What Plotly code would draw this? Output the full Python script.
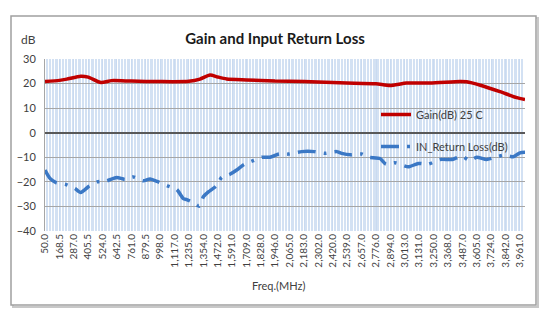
import plotly.graph_objects as go

# Category labels on the frequency axis (MHz)
tick_labels = ["50.0", "168.5", "287.0", "405.5", "524.0", "642.5", "761.0", "879.5",
               "998.0", "1,117.0", "1,235.0", "1,354.0", "1,472.0", "1,591.0", "1,709.0",
               "1,828.0", "1,946.0", "2,065.0", "2,183.0", "2,302.0", "2,420.0", "2,539.0",
               "2,657.0", "2,776.0", "2,894.0", "3,013.0", "3,131.0", "3,250.0", "3,368.0",
               "3,487.0", "3,605.0", "3,724.0", "3,842.0", "3,961.0"]
tick_freqs = [float(t.replace(",", "")) for t in tick_labels]

# Gain (dB) at 25 C
gain_freq = [50, 169, 229, 344, 406, 511, 599, 761, 997, 1235, 1326, 1409, 1472, 1546,
             1709, 1944, 2183, 2420, 2534, 2776, 2891, 3029, 3221, 3468, 3523, 3636,
             3797, 3934, 4003]
gain_db = [20.8, 21.3, 21.8, 23.0, 22.6, 20.4, 21.2, 21.0, 20.8, 20.9, 21.8, 23.5, 22.7,
           21.9, 21.5, 21.0, 20.8, 20.4, 20.2, 19.9, 19.2, 20.2, 20.2, 20.8, 20.7, 19.3,
           16.7, 14.3, 13.5]

# Input return loss (dB)
rl_freq = [50, 91, 141, 223, 297, 344, 407, 481, 558, 640, 709, 777, 859, 915, 983, 1057,
           1135, 1189, 1217, 1277, 1321, 1354, 1395, 1458, 1505, 1573, 1629, 1689, 1765,
           1835, 1903, 1977, 2054, 2164, 2268, 2356, 2452, 2493, 2567, 2658, 2712, 2809,
           2858, 2932, 3042, 3124, 3206, 3303, 3404, 3481, 3550, 3605, 3687, 3770, 3838,
           3906, 3962, 4003]
rl_db = [-15.2, -18.6, -20.3, -21.1, -22.7, -24.3, -22.0, -20.0, -19.6, -18.2, -19.0,
         -18.0, -19.6, -18.8, -20.0, -21.6, -23.1, -26.8, -27.2, -28.6, -29.9, -26.1,
         -24.1, -21.8, -18.2, -16.9, -15.2, -12.9, -11.4, -10.0, -10.0, -8.7, -8.7, -7.7,
         -7.7, -8.4, -7.7, -8.4, -9.0, -8.7, -10.0, -10.5, -12.8, -12.2, -13.9, -12.5,
         -12.8, -10.9, -10.9, -9.5, -11.4, -10.0, -10.9, -9.8, -9.1, -9.8, -8.2, -8.0]

FONT = "Lato"
TXT = "#404040"

fig = go.Figure()
fig.add_trace(go.Scatter(
    x=gain_freq, y=gain_db, name="Gain(dB) 25 C", mode="lines",
    line=dict(color="#C00000", width=3.5, shape="spline", smoothing=0.6),
    legendgroup="g1"))
fig.add_trace(go.Scatter(
    x=rl_freq, y=rl_db, name="IN_Return Loss(dB)", mode="lines",
    line=dict(color="#3B78C5", width=3.5, shape="spline", smoothing=0.6,
              dash="18px,8px,3px,8px"),
    legendgroup="g2"))

L, R, T, B = 45, 25, 59, 92
W, H = 550, 323
pw, ph = W - L - R, H - T - B


def px_x(x):
    return (x - L) / pw


def px_y(y):
    return (H - B - y) / ph


shapes = [
    # drop shadow of the chart frame
    dict(type="rect", xref="paper", yref="paper",
         x0=px_x(13), x1=px_x(538), y0=px_y(307), y1=px_y(18),
         line=dict(color="#c8c8c8", width=2), layer="below"),
    # chart frame
    dict(type="rect", xref="paper", yref="paper",
         x0=px_x(11), x1=px_x(536), y0=px_y(305), y1=px_y(16),
         line=dict(color="#a0a0a0", width=1.5), fillcolor="white", layer="below"),
]

fig.update_layout(
    width=W, height=H,
    margin=dict(l=L, r=R, t=T, b=B),
    paper_bgcolor="white", plot_bgcolor="white",
    font=dict(family=FONT, color=TXT, size=11),
    title=dict(text="<b>Gain and Input Return Loss</b>", x=0.5, xanchor="center",
               y=1 - 39 / H, yanchor="middle", yref="container",
               font=dict(family=FONT, size=15, color="#1a1a1a")),
    showlegend=True,
    legend=dict(x=px_x(376), y=px_y(100), xanchor="left", yanchor="top",
                bgcolor="rgba(0,0,0,0)", font=dict(size=11, color=TXT),
                tracegroupgap=13, itemwidth=30),
    shapes=shapes,
    annotations=[
        dict(text="dB", x=px_x(28), y=px_y(39), xref="paper", yref="paper",
             xanchor="center", yanchor="middle",
             showarrow=False, font=dict(size=12, color=TXT)),
        dict(text="Freq.(MHz)", x=px_x(278), y=px_y(285), xref="paper", yref="paper",
             xanchor="center", yanchor="middle",
             showarrow=False, font=dict(size=11, color=TXT)),
    ],
)

fig.update_xaxes(
    type="linear", range=[50, 4003],
    tickmode="array", tickvals=tick_freqs, ticktext=tick_labels,
    tickangle=-90, tickfont=dict(size=10, color=TXT),
    showgrid=True, gridcolor="#c9daf0", gridwidth=1,
    minor=dict(tick0=50, dtick=11.85, showgrid=True, gridcolor="#d3e1f3", gridwidth=1),
    showline=False, zeroline=False, ticks="",
    anchor="y",
)
fig.update_yaxes(
    range=[-40, 30], dtick=10, tick0=0,
    tickfont=dict(size=11, color=TXT),
    showgrid=True, gridcolor="#a6a6a6", gridwidth=1,
    zeroline=True, zerolinecolor="#595959", zerolinewidth=2,
    showline=True, linecolor="#a6a6a6", linewidth=1,
    ticks="", ticklabelstandoff=6,
)

fig.write_html("out.html")
